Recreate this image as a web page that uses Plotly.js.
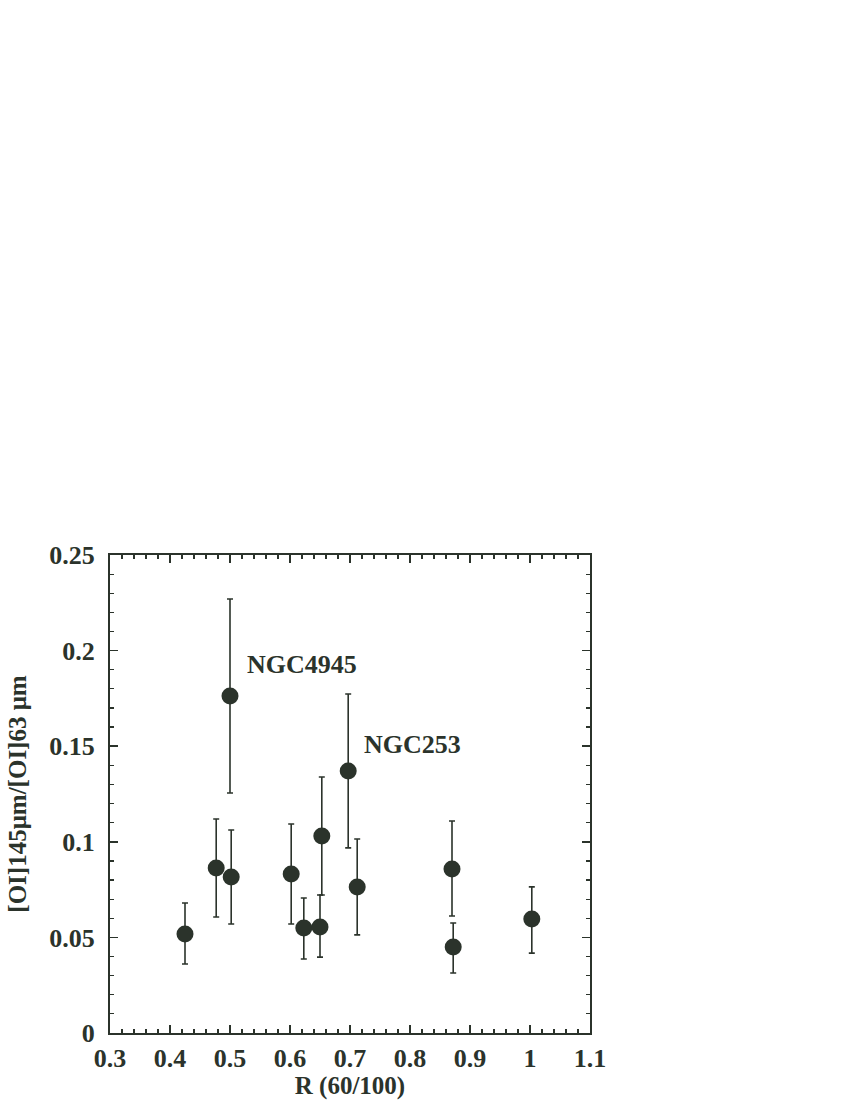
<!DOCTYPE html>
<html>
<head>
<meta charset="utf-8">
<script src="https://cdn.plot.ly/plotly-3.0.1.min.js"></script>
<style>body{margin:0;padding:0;background:#fff;}#chart{width:850px;height:1100px;}</style>
</head>
<body>
<div id="chart"></div>
<script>
// R(60/100) values
var ratioR = [0.425, 0.477, 0.500, 0.502, 0.602, 0.623, 0.650, 0.653, 0.697, 0.712, 0.870, 0.872, 1.003];
// [OI]145/[OI]63 ratio
var oiRatio = [0.0518, 0.0863, 0.1763, 0.0816, 0.0832, 0.0549, 0.0554, 0.1030, 0.1370, 0.0764, 0.0858, 0.0450, 0.0596];
// upper and lower error-bar ends
var errTop = [0.0680, 0.1119, 0.2270, 0.1062, 0.1093, 0.0706, 0.0722, 0.1339, 0.1773, 0.1015, 0.1109, 0.0575, 0.0764];
var errBottom = [0.0361, 0.0607, 0.1255, 0.0570, 0.0570, 0.0387, 0.0397, 0.0722, 0.0968, 0.0513, 0.0612, 0.0314, 0.0418];
var labelNames = ["NGC4945", "NGC253"];
var labelX = [0.525, 0.72];
var labelY = [0.1925, 0.151];

var plus = oiRatio.map(function(v, i){ return errTop[i] - v; });
var minus = oiRatio.map(function(v, i){ return v - errBottom[i]; });

var ink = '#2b332b';
var font = {family: 'Liberation Serif, Times New Roman, serif', size: 26, color: ink, weight: 'bold'};
var titleFont = {family: 'Liberation Serif, Times New Roman, serif', size: 25, color: ink, weight: 'bold'};

var trace = {
  x: ratioR, y: oiRatio, type: 'scatter', mode: 'markers',
  marker: {size: 17, color: ink},
  error_y: {type: 'data', symmetric: false, array: plus, arrayminus: minus,
            color: ink, thickness: 1.6, width: 3},
  showlegend: false
};

var annotations = labelNames.map(function(t, i){
  return {x: labelX[i], y: labelY[i], xref: 'x', yref: 'y', text: '<b>' + t + '</b>',
          showarrow: false, xanchor: 'left', yanchor: 'middle', font: font};
});

var layout = {
  width: 850, height: 1100,
  margin: {l: 110, r: 259.5, t: 555, b: 67},
  paper_bgcolor: '#fff', plot_bgcolor: '#fff',
  font: font,
  xaxis: {
    range: [0.3, 1.1], dtick: 0.1, tick0: 0.3, showgrid: false, zeroline: false,
    showline: true, linecolor: ink, linewidth: 2, mirror: 'allticks',
    ticks: 'inside', ticklen: 8, tickwidth: 1.5, tickcolor: ink,
    minor: {dtick: 0.02, ticks: 'inside', ticklen: 4, tickwidth: 1.2, tickcolor: ink, showgrid: false},
    tickfont: font, ticklabelstandoff: 1, tickangle: 0,
    title: {text: '<b>R (60/100)</b>', font: titleFont, standoff: 2}
  },
  yaxis: {
    range: [0, 0.25], dtick: 0.05, tick0: 0, showgrid: false, zeroline: false,
    showline: true, linecolor: ink, linewidth: 2, mirror: 'allticks',
    ticks: 'inside', ticklen: 8, tickwidth: 1.5, tickcolor: ink,
    minor: {dtick: 0.01, ticks: 'inside', ticklen: 4, tickwidth: 1.2, tickcolor: ink, showgrid: false},
    tickfont: font, ticklabelstandoff: 8,
    title: {text: '<b>[OI]145μm/[OI]63 μm</b>', font: titleFont, standoff: 16}
  },
  annotations: annotations
};

Plotly.newPlot('chart', [trace], layout, {displayModeBar: false, staticPlot: true});
</script>
</body>
</html>
